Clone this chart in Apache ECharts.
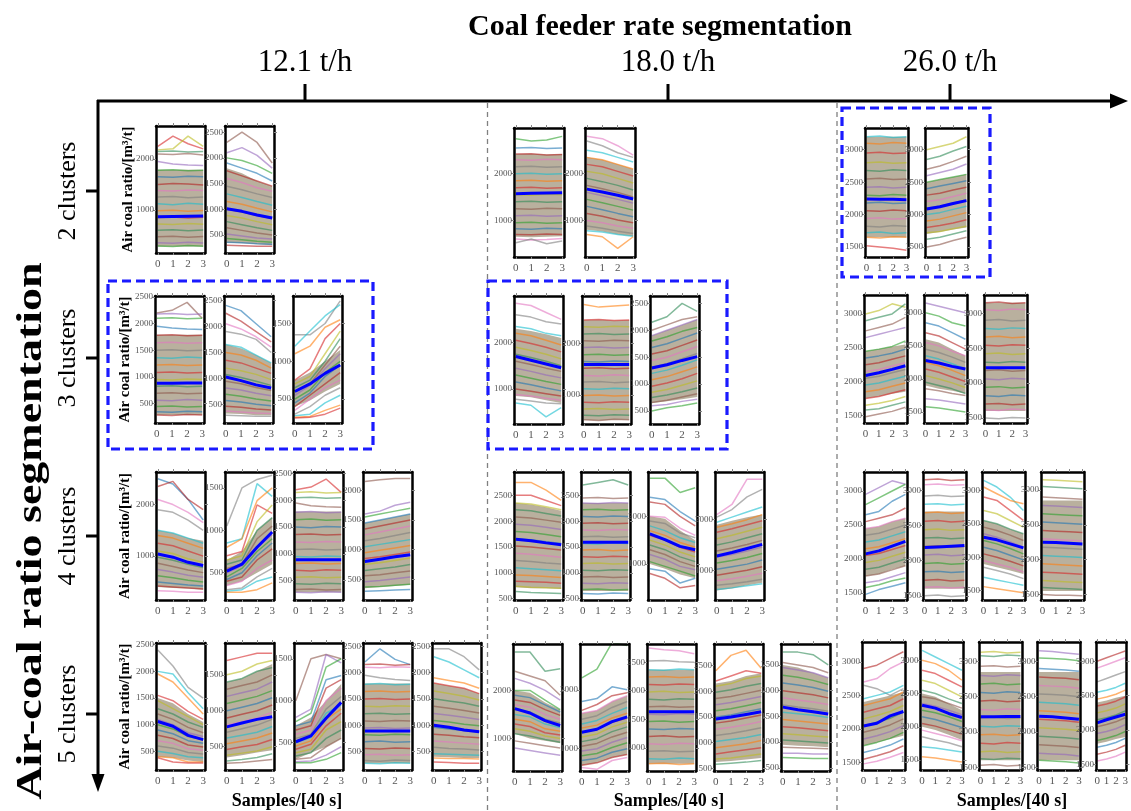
<!DOCTYPE html>
<html>
<head>
<meta charset="utf-8">
<script src="https://cdn.jsdelivr.net/npm/echarts@6/dist/echarts.min.js"></script>
<style>
html, body { margin: 0; padding: 0; background: #fff; }
#chart { width: 1131px; height: 811px; }
</style>
</head>
<body>
<div id="chart"></div>
<script>
// ---------- categories ----------
const samples = [0, 1, 2, 3];
const sampleTicks = [0, 1, 2, 3];
const feederRates = ['12.1 t/h', '18.0 t/h', '26.0 t/h'];
const clusterRows = ['2 clusters', '3 clusters', '4 clusters', '5 clusters'];

// Each cell: cluster centroids (blue), member curves, the envelope of the densely packed
// members ([lower, upper]), y-axis range and y tick values, one entry per cluster panel.

// ---------- 2 clusters ----------
const centroids_k2_f121 = [[865, 870, 875, 880], [1010, 960, 890, 830]];
const members_k2_f121 = [
  [[2250,2450,2300,2200],[2180,2200,2450,2250],[2150,2160,2140,2150],[2100,2090,2110,2080],[1950,1900,1880,1870],[1780,1790,1770,1780],[1650,1640,1660,1650],[1500,1520,1510,1490],[1380,1370,1390,1380],[1250,1260,1240,1250],[1120,1100,1130,1110],[980,990,970,985],[850,860,840,855],[720,710,730,715],[600,610,590,605],[470,480,460,475],[350,340,360,345],[290,280,300,285]],
  [[2300,2500,2300,1900],[2100,2200,2050,1800],[2000,1950,1850,1700],[1900,1800,1700,1550],[1750,1650,1550,1450],[1600,1520,1420,1350],[1450,1380,1300,1230],[1300,1230,1150,1080],[1150,1100,1020,950],[1000,950,880,820],[880,830,760,700],[760,700,640,590],[640,590,540,500],[520,480,440,420],[430,410,380,360],[360,350,330,320],[300,290,280,280]]
];
const coreBand_k2_f121 = [[[280,280,280,280],[1790,1790,1790,1790]], [[350,340,320,300],[1800,1700,1550,1450]]];
const yRange_k2_f121 = [[150, 2650], [150, 2620]];
const yTicks_k2_f121 = [[1000, 2000], [500, 1000, 1500, 2000, 2500]];

const centroids_k2_f180 = [[1570, 1580, 1585, 1590], [1670, 1610, 1540, 1460]];
const members_k2_f180 = [
  [[2750,2700,2720,2800],[2550,2560,2540,2550],[2420,2430,2400,2410],[2300,2290,2310,2300],[2150,2160,2140,2150],[2000,2010,1990,2000],[1850,1860,1840,1850],[1700,1710,1690,1700],[1550,1540,1560,1550],[1400,1410,1390,1400],[1250,1240,1260,1250],[1100,1110,1090,1100],[950,960,940,950],[820,810,830,820],[700,690,710,700],[600,580,590,610],[520,600,500,560]],
  [[2800,2750,2600,2400],[2700,2600,2450,2350],[2500,2450,2350,2250],[2350,2300,2200,2100],[2200,2150,2050,1950],[2050,2000,1900,1800],[1900,1830,1750,1650],[1750,1680,1600,1500],[1600,1530,1450,1370],[1450,1380,1300,1220],[1300,1230,1150,1080],[1150,1090,1010,950],[1000,950,880,830],[880,830,770,720],[780,750,700,660],[700,650,400,650]]
];
const coreBand_k2_f180 = [[[650,640,650,660],[2420,2430,2410,2420]], [[800,760,700,660],[2350,2300,2200,2100]]];
const yRange_k2_f180 = [[216, 2979], [216, 2979]];
const yTicks_k2_f180 = [[1000, 2000], [1000, 2000]];

const centroids_k2_f260 = [[2240, 2238, 2235, 2230], [2085, 2120, 2170, 2215]];
const members_k2_f260 = [
  [[3200,3210,3190,3200],[3100,3090,3110,3100],[2950,2960,2940,2950],[2800,2810,2790,2800],[2680,2670,2690,2680],[2550,2560,2540,2550],[2420,2430,2410,2420],[2300,2290,2310,2300],[2180,2190,2170,2180],[2060,2050,2070,2060],[1940,1950,1930,1940],[1820,1810,1830,1820],[1720,1730,1710,1720],[1650,1640,1660,1650],[1520,1500,1480,1450]],
  [[3000,3050,3100,3200],[2850,2900,2980,3050],[2700,2750,2820,2900],[2600,2650,2700,2780],[2500,2540,2580,2620],[2400,2440,2480,2520],[2300,2330,2380,2420],[2200,2230,2280,2330],[2100,2130,2180,2230],[2000,2030,2080,2130],[1900,1930,1980,2030],[1800,1830,1870,1920],[1720,1740,1780,1820],[1620,1650,1700,1750],[1500,1540,1600,1650]]
];
const coreBand_k2_f260 = [[[1650,1650,1650,1650],[3200,3200,3200,3200]], [[1700,1730,1770,1800],[2500,2540,2580,2620]]];
const yRange_k2_f260 = [[1346, 3335], [1346, 3335]];
const yTicks_k2_f260 = [[1500, 2000, 2500, 3000], [1500, 2000, 2500, 3000]];

// ---------- 3 clusters ----------
const centroids_k3_f121 = [[880, 880, 882, 882], [1030, 960, 880, 820], [600, 700, 840, 950]];
const members_k3_f121 = [
  [[2200,2250,2400,2100],[2180,2190,2170,2180],[2100,2110,2090,2100],[1950,1920,1900,1890],[1780,1790,1770,1780],[1640,1650,1630,1640],[1500,1510,1490,1500],[1360,1350,1370,1360],[1220,1230,1210,1220],[1080,1090,1070,1080],[950,940,960,950],[820,830,810,820],[690,700,680,690],[560,550,570,560],[440,450,430,440],[340,330,350,340],[280,270,290,280]],
  [[2400,2300,2050,1800],[2250,2100,1900,1700],[2050,1950,1800,1600],[1900,1850,1750,1500],[1650,1600,1450,1300],[1500,1450,1350,1200],[1350,1300,1200,1100],[1200,1150,1080,980],[1080,1020,950,870],[950,900,830,770],[820,780,720,670],[700,660,610,570],[580,550,510,480],[470,450,420,400],[380,360,340,330],[300,290,280,280]],
  [[1350,1350,1500,1800],[1200,1400,1600,1750],[1100,1200,1450,1550],[750,900,1300,1500],[700,800,1100,1400],[650,750,1000,1300],[600,700,950,1200],[550,680,900,1100],[500,620,850,1000],[450,580,800,950],[400,550,700,850],[350,500,650,750],[300,400,550,650],[280,300,450,550],[260,270,350,420],[250,260,300,380]]
];
const coreBand_k3_f121 = [[[280,280,280,280],[1790,1790,1790,1790]], [[330,320,300,300],[1650,1580,1450,1300]], [[400,480,600,700],[750,850,1000,1150]]];
const yRange_k3_f121 = [[130, 2520], [150, 2580], [183, 1864]];
const yTicks_k3_f121 = [[500, 1000, 1500, 2000, 2500], [500, 1000, 1500, 2000, 2500], [500, 1000, 1500]];

const centroids_k3_f180 = [[1700, 1620, 1540, 1460], [1590, 1590, 1590, 1590], [1300, 1360, 1440, 1510]];
const members_k3_f180 = [
  [[2850,2800,2650,2500],[2600,2550,2450,2400],[2350,2300,2200,2150],[2200,2150,2050,1950],[2050,1980,1900,1800],[1900,1830,1750,1650],[1750,1680,1600,1500],[1600,1530,1450,1380],[1450,1380,1300,1240],[1300,1230,1160,1100],[1150,1090,1020,960],[1000,950,900,850],[880,850,800,760],[780,740,700,680],[700,650,400,600]],
  [[2750,2700,2720,2740],[2450,2460,2440,2450],[2320,2310,2330,2320],[2180,2190,2170,2180],[2050,2040,2060,2050],[1920,1930,1910,1920],[1780,1790,1770,1780],[1650,1640,1660,1650],[1520,1530,1510,1520],[1380,1370,1390,1380],[1250,1260,1240,1250],[1120,1110,1130,1120],[990,1000,980,990],[860,850,870,860],[730,740,720,730],[610,600,620,610],[520,510,530,520]],
  [[2150,2250,2500,2350],[2000,2100,2200,2250],[1900,2000,2100,2200],[1800,1880,1980,2050],[1680,1750,1850,1950],[1560,1620,1720,1820],[1440,1500,1600,1700],[1320,1380,1470,1570],[1200,1260,1350,1450],[1080,1140,1230,1320],[960,1020,1100,1200],[850,900,980,1060],[750,800,860,930],[660,700,760,820],[600,620,680,720],[500,560,600,650]]
];
const coreBand_k3_f180 = [[[850,820,760,700],[2300,2250,2180,2100]], [[520,510,520,520],[2450,2460,2440,2450]], [[650,680,720,760],[1900,2000,2100,2200]]];
const yRange_k3_f180 = [[246, 3005], [440, 2915], [260, 2636]];
const yTicks_k3_f180 = [[1000, 2000], [1000, 2000], [500, 1000, 1500, 2000, 2500]];

const centroids_k3_f260 = [[2090, 2130, 2180, 2235], [2280, 2240, 2190, 2150], [2220, 2220, 2220, 2220]];
const members_k3_f260 = [
  [[3000,3050,3150,3100],[2900,2950,3000,3150],[2750,2800,2850,2950],[2650,2700,2750,2800],[2450,2480,2520,2600],[2350,2380,2420,2480],[2250,2280,2330,2380],[2150,2180,2230,2280],[2050,2080,2130,2180],[1950,1980,2030,2080],[1850,1880,1930,1980],[1750,1780,1830,1880],[1650,1680,1720,1780],[1580,1600,1650,1700],[1480,1520,1560,1620]],
  [[3150,3100,3050,3000],[3000,2950,2850,2800],[2850,2800,2700,2600],[2700,2650,2550,2450],[2550,2500,2420,2350],[2450,2400,2330,2250],[2350,2300,2230,2150],[2250,2200,2130,2050],[2150,2100,2030,1960],[2050,2000,1940,1870],[1950,1900,1850,1780],[1850,1820,1780,1750],[1700,1680,1650,1620],[1580,1560,1530,1500]],
  [[3150,3160,3140,3150],[3050,3040,3060,3050],[2900,2910,2890,2900],[2780,2770,2790,2780],[2660,2670,2650,2660],[2540,2530,2550,2540],[2420,2430,2410,2420],[2300,2290,2310,2300],[2180,2190,2170,2180],[2060,2050,2070,2060],[1940,1950,1930,1940],[1820,1810,1830,1820],[1700,1710,1690,1700],[1620,1610,1630,1620],[1500,1490,1510,1500]]
];
const coreBand_k3_f260 = [[[1750,1780,1820,1850],[2450,2480,2520,2550]], [[1900,1850,1820,1780],[2600,2550,2450,2350]], [[1600,1600,1600,1600],[3150,3150,3150,3150]]];
const yRange_k3_f260 = [[1388, 3280], [1333, 3270], [1430, 3260]];
const yTicks_k3_f260 = [[1500, 2000, 2500, 3000], [1500, 2000, 2500, 3000], [1500, 2000, 2500, 3000]];

// ---------- 4 clusters ----------
const centroids_k4_f121 = [[1040, 980, 880, 820], [520, 600, 800, 980], [890, 890, 890, 890], [800, 840, 880, 915]];
const members_k4_f121 = [
  [[2500,2400,2100,1700],[2350,2450,2100,1900],[2100,2000,1850,1650],[1900,1850,1700,1500],[1500,1450,1350,1250],[1400,1350,1250,1150],[1250,1200,1100,1000],[1100,1050,950,880],[980,920,840,780],[860,800,730,680],[740,690,630,590],[620,580,530,500],[500,470,440,420],[420,400,380,360],[330,320,300,300]],
  [[1050,1500,1600,1650],[850,900,1550,1400],[800,900,1350,1500],[700,750,1300,1200],[650,700,1100,1300],[600,650,1000,1150],[550,600,900,1050],[500,580,800,950],[450,550,750,900],[420,500,700,850],[400,450,650,780],[350,400,550,650],[300,320,450,550],[280,300,400,450],[270,270,300,380]],
  [[2200,2250,2400,2150],[2150,2160,2140,2150],[2050,2060,2040,2050],[1950,1900,1880,1870],[1780,1790,1770,1780],[1640,1650,1630,1640],[1500,1490,1510,1500],[1360,1370,1350,1360],[1220,1210,1230,1220],[1080,1090,1070,1080],[950,940,960,950],[820,830,810,820],[690,680,700,690],[560,570,550,560],[440,430,450,440],[330,340,320,330],[280,270,290,280]],
  [[2150,2180,2200,2200],[1600,1650,1750,1800],[1550,1600,1650,1700],[1450,1500,1550,1600],[1350,1400,1450,1500],[1250,1300,1350,1400],[1150,1190,1240,1290],[1050,1090,1130,1170],[950,990,1030,1070],[850,880,920,960],[750,780,820,860],[650,680,710,750],[560,580,610,640],[460,480,510,540],[370,380,400,420],[300,310,320,330]]
];
const coreBand_k4_f121 = [[[400,380,370,350],[1500,1450,1350,1300]], [[350,400,500,600],[650,750,1000,1150]], [[280,280,280,280],[1790,1790,1790,1790]], [[350,370,390,410],[1450,1500,1550,1600]]];
const yRange_k4_f121 = [[149, 2632], [178, 1688], [135, 2532], [153, 2309]];
const yTicks_k4_f121 = [[1000, 2000], [500, 1000, 1500], [500, 1000, 1500, 2000, 2500], [500, 1000, 1500, 2000]];

const centroids_k4_f180 = [[1650, 1620, 1580, 1545], [1590, 1590, 1590, 1590], [1630, 1510, 1370, 1300], [1280, 1350, 1430, 1510]];
const members_k4_f180 = [
  [[2750,2750,2600,2400],[2500,2500,2400,2300],[2350,2330,2280,2220],[2220,2200,2150,2100],[2080,2060,2020,1980],[1940,1920,1880,1840],[1800,1780,1740,1700],[1660,1640,1600,1570],[1520,1500,1470,1440],[1380,1360,1330,1300],[1240,1220,1190,1170],[1100,1080,1060,1040],[960,950,930,910],[840,830,820,800],[740,720,710,700],[640,620,610,600]],
  [[2700,2750,2800,2700],[2450,2460,2440,2450],[2350,2340,2360,2350],[2220,2230,2210,2220],[2090,2080,2100,2090],[1960,1970,1950,1960],[1830,1820,1840,1830],[1700,1710,1690,1700],[1570,1560,1580,1570],[1440,1450,1430,1440],[1310,1300,1320,1310],[1180,1190,1170,1180],[1050,1040,1060,1050],[920,930,910,920],[800,790,810,800],[680,690,670,680],[600,590,610,600]],
  [[2800,2800,2500,2600],[2400,2350,2100,1900],[2300,2250,2000,1800],[2000,1980,1750,1600],[1900,1850,1650,1550],[1800,1700,1550,1450],[1700,1600,1450,1350],[1600,1500,1350,1250],[1500,1400,1250,1150],[1400,1300,1150,1050],[1300,1200,1050,950],[1200,1100,950,880],[1050,950,850,750],[900,850,600,700],[800,700,500,550]],
  [[2100,2300,2800,2800],[2050,2200,2450,2600],[1950,2050,2150,2250],[1850,1920,2000,2100],[1750,1820,1900,1980],[1620,1690,1770,1850],[1500,1560,1640,1720],[1380,1440,1510,1590],[1260,1310,1380,1460],[1140,1190,1250,1330],[1020,1070,1120,1200],[900,950,1000,1070],[790,830,880,940],[700,730,770,820],[620,650,690,730]]
];
const coreBand_k4_f180 = [[[720,700,700,690],[2350,2320,2270,2200]], [[650,650,650,650],[2350,2350,2350,2350]], [[1000,900,780,700],[2000,1950,1700,1500]], [[600,640,700,750],[1900,1980,2050,2100]]];
const yRange_k4_f180 = [[475, 2951], [475, 2951], [245, 2929], [410, 2943]];
const yTicks_k4_f180 = [[500, 1000, 1500, 2000, 2500], [500, 1000, 1500, 2000, 2500], [1000, 2000], [1000, 2000]];

const centroids_k4_f260 = [[2075, 2120, 2190, 2260], [2185, 2195, 2205, 2215], [2300, 2260, 2200, 2140], [2250, 2245, 2235, 2225]];
const members_k4_f260 = [
  [[2950,3050,3150,3100],[2800,2900,3000,3100],[2650,2700,2850,2950],[2550,2600,2650,2750],[2450,2480,2550,2600],[2350,2380,2440,2500],[2250,2280,2340,2400],[2150,2180,2240,2300],[2050,2080,2140,2200],[1950,1980,2040,2100],[1850,1880,1940,2000],[1750,1780,1840,1900],[1650,1680,1740,1800],[1580,1620,1680,1720],[1480,1550,1600,1650]],
  [[3150,3160,3140,3150],[3080,3090,3070,3080],[2920,2930,2910,2920],[2800,2810,2790,2800],[2680,2690,2670,2680],[2560,2570,2550,2560],[2440,2450,2430,2440],[2320,2330,2310,2320],[2200,2210,2190,2200],[2080,2090,2070,2080],[1960,1970,1950,1960],[1840,1850,1830,1840],[1720,1730,1710,1720],[1620,1630,1610,1620],[1500,1510,1490,1500]],
  [[3150,3050,2900,2700],[3050,2950,2850,2800],[2900,2850,2700,2550],[2700,2650,2550,2450],[2550,2500,2420,2350],[2450,2400,2330,2250],[2350,2300,2230,2150],[2250,2200,2130,2050],[2150,2100,2030,1960],[2050,2000,1940,1870],[1950,1900,1850,1780],[1850,1800,1750,1680],[1700,1660,1620,1580],[1560,1530,1500,1470]],
  [[3150,3140,3130,3120],[3050,3040,3030,3020],[2900,2890,2880,2870],[2780,2770,2760,2750],[2660,2650,2640,2630],[2540,2530,2520,2510],[2420,2410,2400,2390],[2300,2290,2280,2270],[2180,2170,2160,2150],[2060,2050,2040,2030],[1940,1930,1920,1910],[1820,1810,1800,1790],[1700,1690,1680,1670],[1600,1590,1580,1570],[1500,1490,1490,1480]]
];
const coreBand_k4_f260 = [[[1750,1780,1850,1900],[2450,2480,2550,2600]], [[1600,1600,1600,1600],[2700,2700,2700,2700]], [[1900,1850,1800,1750],[2550,2500,2420,2350]], [[1550,1550,1550,1550],[2850,2850,2850,2850]]];
const yRange_k4_f260 = [[1397, 3280], [1440, 3260], [1360, 3275], [1420, 3260]];
const yTicks_k4_f260 = [[1500, 2000, 2500, 3000], [1500, 2000, 2500, 3000], [1500, 2000, 2500, 3000], [1500, 2000, 2500, 3000]];

// ---------- 5 clusters ----------
const centroids_k5_f121 = [[1060, 970, 800, 720], [775, 830, 880, 915], [510, 580, 790, 980], [890, 890, 890, 890], [1000, 960, 910, 875]];
const members_k5_f121 = [
  [[2400,2100,1700,1500],[2000,1950,1600,1300],[1950,1800,1500,1200],[1550,1450,1250,1100],[1450,1300,1150,1000],[1300,1200,1050,950],[1200,1100,950,850],[1100,1000,850,780],[1000,920,780,720],[900,830,700,650],[800,740,620,580],[700,650,550,520],[600,560,480,450],[500,460,400,380],[400,380,300,300],[380,300,280,280]],
  [[1700,1750,1800,1800],[1500,1550,1650,1700],[1400,1450,1550,1600],[1300,1350,1400,1500],[1200,1250,1300,1400],[1100,1150,1200,1280],[1000,1050,1100,1180],[900,950,1000,1080],[800,850,900,980],[700,750,800,880],[620,660,700,780],[540,580,620,690],[460,500,530,600],[380,410,440,500],[300,320,350,400],[270,280,300,320]],
  [[1000,1500,1550,1500],[800,900,1550,1450],[750,850,1400,1500],[700,750,1250,1300],[650,700,1150,1250],[600,650,1000,1150],[550,600,900,1050],[500,560,850,950],[460,520,780,900],[420,480,700,850],[380,420,650,750],[340,380,550,650],[300,320,450,550],[270,280,350,450],[260,260,300,380]],
  [[2200,2450,2250,2150],[2150,2160,2140,2150],[2100,2090,2110,2100],[1950,1900,1870,1850],[1780,1790,1770,1780],[1640,1650,1630,1640],[1500,1510,1490,1500],[1360,1350,1370,1360],[1220,1230,1210,1220],[1080,1070,1090,1080],[950,960,940,950],[820,810,830,820],[690,700,680,690],[560,550,570,560],[440,450,430,440],[330,320,340,330],[280,270,290,280]],
  [[2450,2450,2300,2050],[2300,2200,2050,1900],[1900,1850,1800,1700],[1800,1750,1700,1600],[1650,1600,1550,1480],[1500,1460,1420,1360],[1360,1320,1280,1230],[1220,1190,1150,1110],[1090,1060,1020,990],[960,930,900,870],[830,810,780,760],[700,680,660,640],[580,560,550,530],[460,450,440,430],[380,370,370,360],[300,290,280,280]]
];
const coreBand_k5_f121 = [[[400,380,330,300],[1500,1400,1200,1050]], [[350,380,420,450],[1400,1450,1550,1650]], [[300,380,450,550],[700,800,1000,1200]], [[280,280,280,280],[1790,1790,1790,1790]], [[400,390,380,380],[1800,1750,1700,1600]]];
const yRange_k5_f121 = [[150, 2532], [175, 1943], [173, 1688], [152, 2560], [150, 2560]];
const yTicks_k5_f121 = [[500, 1000, 1500, 2000, 2500], [500, 1000, 1500], [500, 1000, 1500], [500, 1000, 1500, 2000, 2500], [500, 1000, 1500, 2000, 2500]];

const centroids_k5_f180 = [[1620, 1530, 1370, 1270], [1280, 1330, 1460, 1540], [1630, 1630, 1630, 1630], [1460, 1500, 1550, 1600], [1680, 1630, 1590, 1545]];
const members_k5_f180 = [
  [[2800,2800,2400,2450],[2400,2300,2200,1900],[2250,2150,2000,1800],[2000,2000,1800,1600],[1900,1850,1700,1550],[1800,1750,1600,1480],[1700,1650,1500,1400],[1600,1550,1400,1320],[1500,1450,1300,1230],[1400,1350,1200,1150],[1300,1250,1120,1070],[1200,1150,1050,1000],[1100,1050,980,920],[950,900,850,800],[800,750,700,650]],
  [[2200,2350,2800,2750],[1800,1850,2050,2000],[1650,1750,1900,1950],[1600,1650,1800,1900],[1500,1560,1700,1800],[1420,1480,1600,1700],[1350,1400,1520,1600],[1280,1330,1450,1520],[1200,1250,1370,1450],[1120,1170,1290,1370],[1040,1090,1200,1280],[960,1000,1110,1190],[880,920,1020,1100],[800,840,940,1000],[720,760,850,900],[680,650,800,850]],
  [[2750,2720,2700,2650],[2520,2530,2510,2500],[2370,2360,2380,2370],[2240,2250,2230,2240],[2110,2100,2120,2110],[1980,1990,1970,1980],[1850,1840,1860,1850],[1720,1730,1710,1720],[1590,1580,1600,1590],[1460,1470,1450,1460],[1330,1320,1340,1330],[1200,1210,1190,1200],[1070,1060,1080,1070],[940,950,930,940],[810,800,820,810],[720,730,710,720]],
  [[2400,2700,2800,2450],[2200,2300,2400,2350],[2100,2150,2250,2300],[1980,2030,2100,2150],[1860,1900,1960,2020],[1740,1780,1840,1900],[1620,1660,1720,1780],[1500,1540,1600,1660],[1380,1420,1480,1540],[1260,1300,1350,1410],[1140,1180,1230,1290],[1020,1060,1100,1160],[900,940,980,1040],[780,820,860,900],[680,700,740,780],[580,600,620,650]],
  [[2750,2750,2700,2500],[2550,2500,2450,2350],[2450,2400,2350,2250],[2300,2260,2200,2120],[2150,2110,2060,1990],[2000,1960,1920,1860],[1860,1820,1780,1730],[1720,1680,1650,1600],[1580,1550,1520,1480],[1440,1410,1380,1350],[1300,1280,1250,1220],[1160,1140,1120,1100],[1040,1020,1000,980],[900,890,880,870],[780,780,770,770],[700,690,680,680]]
];
const coreBand_k5_f180 = [[[1100,1000,950,900],[2000,1950,1750,1600]], [[720,760,850,900],[1600,1650,1800,1900]], [[720,720,720,720],[2370,2370,2370,2370]], [[620,640,670,700],[2150,2200,2300,2350]], [[950,930,920,900],[2500,2450,2350,2250]]];
const yRange_k5_f180 = [[323, 2966], [622, 2776], [594, 2819], [447, 2922], [437, 2908]];
const yTicks_k5_f180 = [[1000, 2000], [1000, 2000], [1000, 1500, 2000, 2500], [500, 1000, 1500, 2000, 2500], [500, 1000, 1500, 2000, 2500]];

const centroids_k5_f260 = [[2045, 2085, 2195, 2260], [2325, 2280, 2200, 2140], [2215, 2215, 2220, 2220], [2225, 2215, 2200, 2180], [2105, 2150, 2190, 2230]];
const members_k5_f260 = [
  [[2900,2950,3050,3150],[2700,2750,2900,3000],[2650,2600,2500,2600],[2450,2500,2550,2650],[2350,2400,2450,2550],[2250,2300,2350,2450],[2150,2200,2260,2350],[2050,2100,2160,2250],[1950,2000,2060,2150],[1850,1900,1960,2050],[1750,1800,1860,1950],[1650,1700,1760,1850],[1550,1600,1660,1750],[1480,1520,1580,1650]],
  [[3150,3050,2950,2850],[3000,2950,2850,2700],[2850,2800,2700,2600],[2700,2650,2550,2450],[2550,2500,2420,2350],[2450,2420,2350,2280],[2350,2310,2250,2180],[2250,2210,2150,2080],[2150,2110,2050,1990],[2050,2010,1950,1890],[1950,1900,1850,1790],[1850,1800,1760,1700],[1700,1680,1650,1620],[1550,1530,1500,1470]],
  [[3130,3140,3120,3130],[3080,3070,3090,3080],[2930,2940,2920,2930],[2800,2790,2810,2800],[2680,2690,2670,2680],[2560,2550,2570,2560],[2440,2450,2430,2440],[2320,2310,2330,2320],[2200,2210,2190,2200],[2080,2070,2090,2080],[1960,1970,1950,1960],[1840,1830,1850,1840],[1720,1730,1710,1720],[1620,1610,1630,1620],[1530,1540,1520,1530]],
  [[3150,3140,3120,3100],[3050,3040,3030,3010],[2900,2890,2880,2860],[2780,2770,2760,2740],[2660,2650,2640,2620],[2540,2530,2520,2500],[2420,2410,2400,2380],[2300,2290,2280,2260],[2180,2170,2160,2140],[2060,2050,2040,2020],[1940,1930,1920,1900],[1820,1810,1800,1780],[1700,1690,1680,1660],[1600,1590,1580,1560]],
  [[3000,3050,3100,3150],[2900,2950,3000,3050],[2700,2750,2800,2850],[2550,2580,2620,2680],[2450,2480,2520,2580],[2350,2380,2420,2480],[2250,2280,2320,2380],[2150,2180,2220,2280],[2050,2080,2120,2180],[1950,1980,2020,2080],[1850,1880,1920,1980],[1750,1780,1820,1880],[1650,1680,1720,1780],[1550,1580,1620,1680]]
];
const coreBand_k5_f260 = [[[1750,1800,1850,1900],[2400,2450,2500,2550]], [[2000,1950,1880,1800],[2500,2450,2350,2250]], [[1600,1600,1600,1600],[2850,2850,2850,2850]], [[1600,1600,1600,1600],[2850,2850,2850,2850]], [[1800,1830,1870,1900],[2400,2430,2470,2500]]];
const yRange_k5_f260 = [[1389, 3295], [1350, 3275], [1462, 3275], [1462, 3275], [1420, 3280]];
const yTicks_k5_f260 = [[1500, 2000, 2500, 3000], [1500, 2000, 2500, 3000], [1500, 2000, 2500, 3000], [1500, 2000, 2500, 3000], [1500, 2000, 2500, 3000]];

// ---------- layout (pixels) ----------
// per row / column: [first panel left, panel pitch, panel width, top, height]
const panelLayout = [
  [[156, 69, 49, 126, 127], [514, 71, 50, 128, 129], [865, 60, 43, 128, 129]],
  [[155, 69, 49, 296, 127], [514, 68, 49, 296, 128], [864, 60, 43, 295, 128]],
  [[156, 69, 49, 472, 128], [514, 67, 49, 472, 128], [864, 59, 43, 472, 128]],
  [[156, 69, 49, 643, 127], [513, 67, 49, 644, 127], [862, 58.5, 43, 642, 128]]
];
const feederTickX = [305, 668, 950];
const clusterTickY = [191, 358, 536, 714];
const unitLabelX = [128, 125, 125, 125];
const samplesLabelX = [287, 669, 1012];
const highlightBoxes = [[842, 108, 148, 169], [108, 281, 265, 168], [488, 281, 239, 168]];
const separatorX = [487.5, 837];

const cells = [
  [centroids_k2_f121, members_k2_f121, coreBand_k2_f121, yRange_k2_f121, yTicks_k2_f121],
  [centroids_k2_f180, members_k2_f180, coreBand_k2_f180, yRange_k2_f180, yTicks_k2_f180],
  [centroids_k2_f260, members_k2_f260, coreBand_k2_f260, yRange_k2_f260, yTicks_k2_f260],
  [centroids_k3_f121, members_k3_f121, coreBand_k3_f121, yRange_k3_f121, yTicks_k3_f121],
  [centroids_k3_f180, members_k3_f180, coreBand_k3_f180, yRange_k3_f180, yTicks_k3_f180],
  [centroids_k3_f260, members_k3_f260, coreBand_k3_f260, yRange_k3_f260, yTicks_k3_f260],
  [centroids_k4_f121, members_k4_f121, coreBand_k4_f121, yRange_k4_f121, yTicks_k4_f121],
  [centroids_k4_f180, members_k4_f180, coreBand_k4_f180, yRange_k4_f180, yTicks_k4_f180],
  [centroids_k4_f260, members_k4_f260, coreBand_k4_f260, yRange_k4_f260, yTicks_k4_f260],
  [centroids_k5_f121, members_k5_f121, coreBand_k5_f121, yRange_k5_f121, yTicks_k5_f121],
  [centroids_k5_f180, members_k5_f180, coreBand_k5_f180, yRange_k5_f180, yTicks_k5_f180],
  [centroids_k5_f260, members_k5_f260, coreBand_k5_f260, yRange_k5_f260, yTicks_k5_f260]
];

const memberPalette = ['#d62728', '#2ca02c', '#17becf', '#8c564b', '#e377c2', '#bcbd22',
  '#1f77b4', '#ff7f0e', '#9467bd', '#7f7f7f', '#2e8b57', '#b22222'];
const SERIF = '"Liberation Serif", "Times New Roman", serif';

const grids = [], xAxes = [], yAxes = [], series = [];

function frameLine() { return { show: true, onZero: false, lineStyle: { color: '#000', width: 2.5 } }; }
const plainNumber = v => String(v);

cells.forEach((cell, ci) => {
  const row = Math.floor(ci / 3), col = ci % 3;
  const [centroids, members, coreBand, yRange, yTicks] = cell;
  const [x0, pitch, w, top, h] = panelLayout[row][col];
  centroids.forEach((mean, p) => {
    const gi = grids.length;
    grids.push({ left: x0 + p * pitch, top: top, width: w, height: h, show: false });
    const xi = xAxes.length, yi = yAxes.length;
    const xBase = { gridIndex: gi, type: 'value', min: -0.12, max: 3.12, z: 10, splitLine: { show: false },
      axisLine: frameLine() };
    xAxes.push(Object.assign({}, xBase, { position: 'bottom',
      axisTick: { show: true, customValues: sampleTicks, length: 2, lineStyle: { color: '#888' } },
      axisLabel: { show: true, customValues: sampleTicks, color: '#555', fontSize: 11, fontFamily: SERIF, margin: 6 } }));
    xAxes.push(Object.assign({}, xBase, { position: 'top',
      axisTick: { show: true, customValues: sampleTicks, length: 3, lineStyle: { color: '#888' } },
      axisLabel: { show: false } }));
    const yBase = { gridIndex: gi, type: 'value', min: yRange[p][0], max: yRange[p][1], z: 10,
      splitLine: { show: false }, axisLine: frameLine() };
    yAxes.push(Object.assign({}, yBase, { position: 'left',
      axisTick: { show: true, customValues: yTicks[p], length: 3, lineStyle: { color: '#888' } },
      axisLabel: { show: true, customValues: yTicks[p], formatter: plainNumber, color: '#555', fontSize: 9, fontFamily: SERIF, margin: 2 } }));
    yAxes.push(Object.assign({}, yBase, { position: 'right',
      axisTick: { show: true, customValues: yTicks[p], length: 3, lineStyle: { color: '#888' } },
      axisLabel: { show: false } }));

    // envelope of the tightly packed member curves
    const [lower, upper] = coreBand[p];
    series.push({ type: 'custom', xAxisIndex: xi, yAxisIndex: yi, silent: true, clip: true, z: 1,
      data: [0],
      renderItem: (params, api) => {
        const pts = samples.map((s, i) => api.coord([s, lower[i]]))
          .concat(samples.map((s, i) => api.coord([s, upper[i]])).reverse());
        return { type: 'polygon', shape: { points: pts }, style: { fill: '#8e7f62', opacity: 0.62 } };
      } });

    members[p].forEach((vals, m) => {
      series.push({ type: 'line', xAxisIndex: xi, yAxisIndex: yi, silent: true, clip: true,
        symbol: 'none', z: 2,
        data: samples.map((s, i) => [s, vals[i]]),
        lineStyle: { width: 1.5, opacity: 0.6, color: memberPalette[(m * 5 + p * 3 + ci) % memberPalette.length] } });
    });
    series.push({ type: 'line', xAxisIndex: xi, yAxisIndex: yi, silent: true, clip: true,
      symbol: 'none', z: 4,
      data: samples.map((s, i) => [s, mean[i]]),
      lineStyle: { width: 3, color: '#0000ff' } });
  });
});

// ---------- frame decorations and text ----------
function text(str, x, y, size, bold, rotation, squeeze) {
  return { type: 'text', x: x, y: y, rotation: rotation || 0, scaleY: squeeze || 1, z: 60,
    style: { text: str, fontSize: size, fontWeight: bold ? 'bold' : 'normal', fontFamily: SERIF,
      fill: '#000', align: 'center', verticalAlign: 'middle', textAlign: 'center', textVerticalAlign: 'middle' } };
}
function seg(x1, y1, x2, y2, width, color, dash) {
  return { type: 'line', z: 55, shape: { x1, y1, x2, y2 },
    style: { stroke: color, lineWidth: width, lineDash: dash || null } };
}

const graphics = [];
graphics.push(text('Coal feeder rate segmentation', 660, 27, 30, true));
feederRates.forEach((t, i) => {
  graphics.push(text(t, feederTickX[i], 63, 31, false, 0, 1));
  graphics.push(seg(feederTickX[i], 84, feederTickX[i], 101, 3, '#000'));
});
graphics.push(seg(97, 101, 1113, 101, 3, '#000'));
graphics.push({ type: 'polygon', z: 55, shape: { points: [[1128, 101], [1110, 93.5], [1110, 108.5]] }, style: { fill: '#000' } });
graphics.push(seg(98, 100, 98, 776, 3, '#000'));
graphics.push({ type: 'polygon', z: 55, shape: { points: [[98, 792], [91.5, 774], [104.5, 774]] }, style: { fill: '#000' } });
clusterRows.forEach((t, i) => {
  graphics.push(text(t, 68, clusterTickY[i], 26, false, Math.PI / 2));
  graphics.push(seg(86, clusterTickY[i], 98, clusterTickY[i], 3, '#000'));
  const l = panelLayout[i][0];
  graphics.push(text('Air coal ratio/[m\u00b3/t]', unitLabelX[i], l[3] + l[4] / 2, 15, true, Math.PI / 2));
});
graphics.push(text('Air-coal ratio segmentation', 31, 531, 46, true, Math.PI / 2, 0.8));
separatorX.forEach(x => graphics.push(seg(x, 103, x, 811, 1.3, '#808080', [5, 4])));
highlightBoxes.forEach(b => graphics.push({ type: 'rect', z: 56, shape: { x: b[0], y: b[1], width: b[2], height: b[3] },
  style: { fill: 'none', stroke: '#1a1aff', lineWidth: 3.2, lineDash: [9, 5] } }));
samplesLabelX.forEach(x => graphics.push(text('Samples/[40 s]', x, 801, 18, true)));

const chart = echarts.init(document.getElementById('chart'), null, { renderer: 'canvas' });
chart.setOption({
  animation: false,
  backgroundColor: '#fff',
  grid: grids,
  xAxis: xAxes,
  yAxis: yAxes,
  series: series,
  graphic: { elements: graphics }
});
</script>
</body>
</html>
